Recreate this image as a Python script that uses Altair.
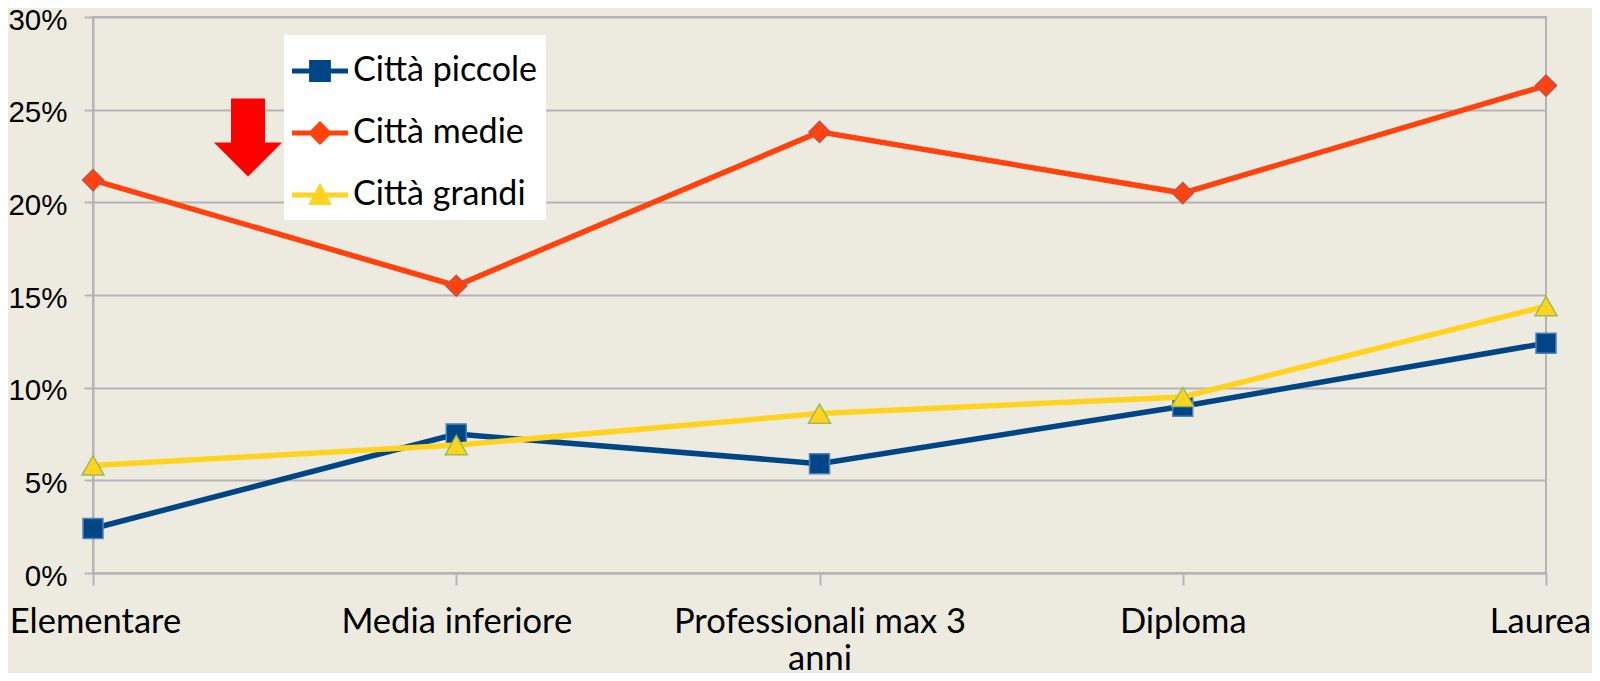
import altair as alt
import pandas as pd

# ---- data ----
categories = ["Elementare", "Media inferiore", "Professionali max 3 anni", "Diploma", "Laurea"]
series_names = ["Città piccole", "Città medie", "Città grandi"]
citta_piccole = [2.4, 7.5, 5.9, 9.0, 12.4]
citta_medie = [21.2, 15.5, 23.8, 20.5, 26.3]
citta_grandi = [5.8, 6.9, 8.6, 9.5, 14.4]
y_ticks = [0, 5, 10, 15, 20, 25, 30]

# annotation arrow (anchored to a category and a value)
arrow_category = ["Elementare"]
arrow_value = [23.5]

# ---- styles ----
line_colors = ["#004586", "#ff420e", "#ffd320"]
marker_borders = ["#4F81BD", "#C0504D", "#9BBB59"]
marker_shapes = ["square", "diamond", "triangle-up"]
marker_sizes = [400, 441, 484]
legend_paths = [
    "M-1,-0.09H1V0.09H-1Z M-0.39,-0.39H0.39V0.39H-0.39Z",
    "M-1,-0.09H1V0.09H-1Z M0,-0.43L0.43,0L0,0.43L-0.43,0Z",
    "M-1,-0.09H1V0.09H-1Z M0,-0.45L0.42,0.36L-0.42,0.36Z",
]
arrow_path = "M-0.5,-1.147L0.5,-1.147L0.5,0.147L1,0.147L0,1.147L-1,0.147L-0.5,0.147Z"
bg = "#EDEBE0"
grid = "#B4B4B4"

rows = []
for name, vals in zip(series_names, [citta_piccole, citta_medie, citta_grandi]):
    for c, v in zip(categories, vals):
        rows.append({"categoria": c, "serie": name, "valore": v})
df = pd.DataFrame(rows)
arrow_df = pd.DataFrame({"categoria": arrow_category, "valore": arrow_value})

# keep the outermost category labels inside the page edges
x_label_offset = {
    "condition": [
        {"test": "datum.value == 'Laurea'", "value": -6},
        {"test": "datum.value == 'Elementare'", "value": 2},
    ],
    "value": 0,
}

x_enc = alt.X(
    "categoria:N",
    sort=categories,
    scale=alt.Scale(type="point", domain=categories, padding=0),
    axis=alt.Axis(
        title=None,
        labelAngle=0,
        labelFont="Lato",
        labelFontSize=34.5,
        labelColor="black",
        labelPadding=20,
        labelLineHeight=37,
        labelOverlap=False,
        labelLimit=0,
        labelOffset=x_label_offset,
        labelExpr="datum.label == 'Professionali max 3 anni' ? ['Professionali max 3', 'anni'] : datum.label",
        tickSize=12,
        tickWidth=2,
        tickColor=grid,
        domainColor=grid,
        domainWidth=2,
        grid=False,
    ),
)
y_enc = alt.Y(
    "valore:Q",
    scale=alt.Scale(domain=[0, 30], nice=False),
    axis=alt.Axis(
        title=None,
        values=y_ticks,
        labelExpr="datum.value + '%'",
        labelFont="Liberation Sans",
        labelFontSize=29.5,
        labelColor="black",
        labelPadding=17,
        labelOffset=3,
        labelLimit=0,
        tickSize=9,
        tickWidth=2,
        tickColor=grid,
        domainColor=grid,
        domainWidth=2,
        gridColor=grid,
        gridWidth=2,
    ),
)

base = alt.Chart(df)
layers = []
for i, name in enumerate(series_names):
    sub = base.transform_filter(alt.datum.serie == name)
    layers.append(sub.mark_line(color=line_colors[i], strokeWidth=5.5).encode(x=x_enc, y=y_enc))
    layers.append(
        sub.mark_point(
            shape=marker_shapes[i],
            filled=True,
            fill=line_colors[i],
            stroke=marker_borders[i],
            strokeWidth=1.5,
            size=marker_sizes[i],
            opacity=1,
        ).encode(x=x_enc, y=y_enc)
    )

legend_opts = dict(
    title=None,
    orient="none",
    legendX=191,
    legendY=18,
    fillColor="white",
    padding=8,
    labelFont="Lato",
    labelFontSize=34,
    labelColor="black",
    labelOffset=5,
    labelLimit=0,
    symbolSize=3136,
    symbolStrokeWidth=0,
    rowPadding=17,
)

legend_layer = base.transform_filter("false").mark_point(filled=True, opacity=1).encode(
    x=x_enc,
    y=y_enc,
    color=alt.Color(
        "serie:N",
        scale=alt.Scale(domain=series_names, range=line_colors),
        legend=alt.Legend(**legend_opts),
    ),
    shape=alt.Shape(
        "serie:N",
        scale=alt.Scale(domain=series_names, range=legend_paths),
        legend=alt.Legend(**legend_opts),
    ),
)

arrow_layer = alt.Chart(arrow_df).mark_point(
    shape=arrow_path, filled=True, color="#ff0000", size=4624, xOffset=155, opacity=1, strokeWidth=0
).encode(x=x_enc, y=y_enc)

chart = (
    alt.layer(*layers, legend_layer, arrow_layer)
    .properties(
        width=1453,
        height=556,
        autosize=alt.AutoSizeParams(type="none"),
        padding={"left": 85, "top": 9, "right": 46, "bottom": 100},
        background=bg,
    )
    .configure_view(stroke=grid, strokeWidth=2, fill=bg)
)

chart.save("out.html", embed_options={"renderer": "svg", "actions": False})
